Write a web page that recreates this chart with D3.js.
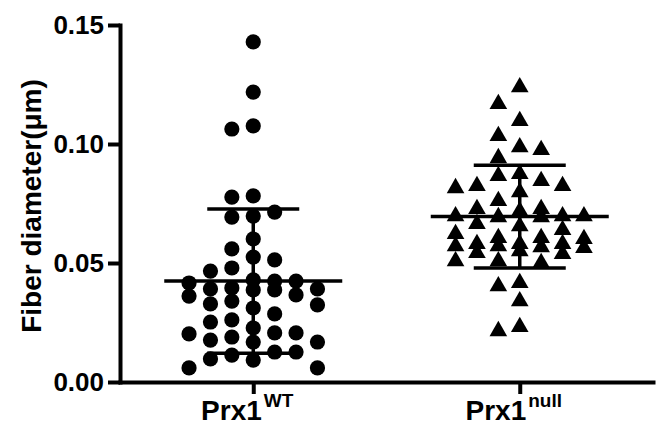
<!DOCTYPE html>
<html><head><meta charset="utf-8">
<script src="https://cdn.jsdelivr.net/npm/d3@7"></script>
<style>
body{margin:0;background:#fff}
svg{display:block}
text{font-family:"Liberation Sans",Arial,sans-serif;font-weight:bold;fill:#000}
</style>
</head><body>
<svg id="chart" width="666" height="445"></svg>
<script>
// ---- data ----
const categories = ["Prx1", "Prx1"];
const superscripts = ["WT", "null"];
const wtValues = [0.1429,0.1218,0.1076,0.1063,0.0782,0.0777,0.0714,0.0697,0.0693,0.0601,0.0559,0.0525,0.0513,0.0479,0.0466,
  0.0429,0.0424,0.0424,0.0416,0.0395,0.0391,0.0391,0.0387,0.0387,0.0366,0.0361,0.0340,0.0328,0.0324,0.0311,0.0286,0.0261,0.0252,
  0.0227,0.0206,0.0206,0.0202,0.0189,0.0176,0.0168,0.0168,0.0126,0.0126,0.0113,0.0097,0.0092,0.0059,0.0059];
const nullValues = [0.1239,0.1168,0.1097,0.1034,0.0987,0.0975,0.0941,0.0874,0.0866,0.0845,0.0824,0.0824,0.0815,0.0798,0.0761,
  0.0727,0.0727,0.0718,0.0697,0.0697,0.0697,0.0693,0.0693,0.0664,0.0655,0.0639,0.0622,0.0605,0.0605,0.0601,0.0580,0.0580,0.0580,
  0.0571,0.0571,0.0567,0.0563,0.0550,0.0542,0.0538,0.0508,0.0508,0.0500,0.0416,0.0403,0.0340,0.0231,0.0214];
const groupMeans = [0.0424, 0.0695];
const groupSDs = [0.0303, 0.0216];
const yTicks = [0.00, 0.05, 0.10, 0.15];
const yTitle = "Fiber diameter(\u03bcm)";

// ---- chart ----
const svg = d3.select("#chart");
svg.append("rect").attr("width", 666).attr("height", 445).attr("fill", "#fff");

const y = d3.scaleLinear().domain([0, 0.15]).range([382, 25]);
const x = d3.scalePoint().domain([0, 1]).range([120, 653]).padding(0.5);

const step = 21.4;

// grid beeswarm: columns at whole steps (max +-3), half-steps as fallback,
// otherwise the least-crowded column
function swarm(values, minGap) {
  const placed = [];
  const order = d3.range(values.length).sort((a, b) => d3.descending(values[a], values[b]));
  const slots = new Array(values.length);
  const whole = [0, -1, 1, -2, 2, -3, 3];
  const half = [-0.5, 0.5, -1.5, 1.5, -2.5, 2.5];
  const clear = (s, py) => !placed.some(p => Math.abs(p.s - s) < 0.9 && Math.abs(p.py - py) < minGap);
  for (const i of order) {
    const py = y(values[i]);
    let s = whole.find(c => clear(c, py));
    if (s === undefined) s = half.find(c => clear(c, py));
    if (s === undefined) {
      s = d3.greatest(whole, c => d3.min(placed.filter(p => Math.abs(p.s - c) < 0.9), p => Math.abs(p.py - py)));
    }
    placed.push({ s, py });
    slots[i] = s;
  }
  return slots.map(s => s * step);
}

// points
const wtOff = swarm(wtValues, 17);
svg.append("g").selectAll("circle").data(wtValues).join("circle")
  .attr("cx", (d, i) => x(0) + wtOff[i])
  .attr("cy", d => y(d))
  .attr("r", 7.6)
  .attr("fill", "#000");

const nullOff = swarm(nullValues, 17);
const tri = d3.symbol().type(d3.symbolTriangle).size(135);
svg.append("g").selectAll("path").data(nullValues).join("path")
  .attr("d", tri)
  .attr("transform", (d, i) => `translate(${x(1) + nullOff[i]},${y(d)})`)
  .attr("fill", "#000");

// mean and SD bars
const stats = svg.append("g").attr("stroke", "#000").attr("stroke-width", 3.5);
groupMeans.forEach((m, i) => {
  const cx = x(i), sd = groupSDs[i];
  stats.append("line").attr("x1", cx - 89).attr("x2", cx + 89).attr("y1", y(m)).attr("y2", y(m));
  stats.append("line").attr("x1", cx - 46).attr("x2", cx + 46).attr("y1", y(m + sd)).attr("y2", y(m + sd));
  stats.append("line").attr("x1", cx - 46).attr("x2", cx + 46).attr("y1", y(m - sd)).attr("y2", y(m - sd));
  stats.append("line").attr("x1", cx).attr("x2", cx).attr("y1", y(m + sd)).attr("y2", y(m - sd));
});

// axes
const yAxis = svg.append("g").attr("transform", "translate(120,0)")
  .call(d3.axisLeft(y).tickValues(yTicks).tickFormat(d3.format(".2f")).tickSize(12).tickSizeOuter(0).tickPadding(4));
const xAxis = svg.append("g").attr("transform", "translate(0,382)")
  .call(d3.axisBottom(x).tickSize(12).tickSizeOuter(0).tickFormat(""));
[yAxis, xAxis].forEach(a => {
  a.select(".domain").attr("stroke", "#000").attr("stroke-width", 4).attr("stroke-linecap", "square");
  a.selectAll(".tick line").attr("stroke", "#000").attr("stroke-width", 4);
});
yAxis.selectAll(".tick text").attr("font-size", 26).attr("fill", "#000")
  .style("font-family", '"Liberation Sans",Arial,sans-serif').style("font-weight", "bold");

// x category labels
categories.forEach((c, i) => {
  const t = svg.append("text").attr("x", x(i) - 6).attr("y", 420)
    .attr("text-anchor", "middle").attr("font-size", 28);
  t.append("tspan").text(c);
  t.append("tspan").attr("dx", 2).attr("dy", -13).attr("font-size", 19).text(superscripts[i]);
});

// y title
svg.append("text").attr("transform", "translate(31,206) rotate(-90)")
  .attr("text-anchor", "middle").attr("dominant-baseline", "central")
  .attr("font-size", 28).text(yTitle);
</script>
</body></html>
